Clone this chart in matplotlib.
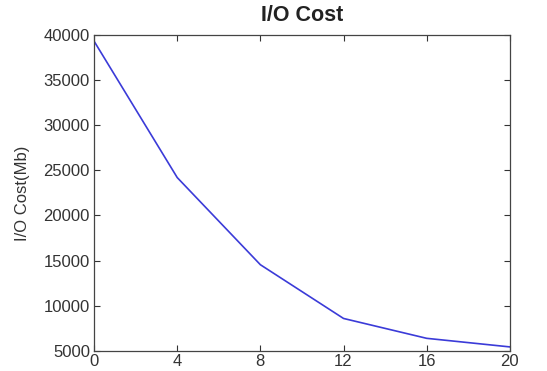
import matplotlib
matplotlib.use("Agg")
import matplotlib.pyplot as plt

# values
steps = [0, 4, 8, 12, 16, 20]
io_cost = [39300, 24200, 14550, 8600, 6400, 5450]
x_ticks = [0, 4, 8, 12, 16, 20]
y_ticks = [5000, 10000, 15000, 20000, 25000, 30000, 35000, 40000]

plt.rcParams['font.family'] = ['Liberation Sans', 'DejaVu Sans']

fig = plt.figure(figsize=(5.47, 3.71), dpi=100)
ax = fig.add_axes([0.172, 0.054, 0.76, 0.852])

ax.plot(steps, io_cost, color='#3b3bd8', linewidth=1.2)

ax.set_xlim(0, 20)
ax.set_ylim(5000, 40000)
ax.set_xticks(x_ticks)
ax.set_yticks(y_ticks)
ax.tick_params(direction='in', top=True, right=True, length=4, width=0.8,
               labelsize=12, colors='#333333', pad=3)
ax.tick_params(axis='x', pad=2)
for s in ax.spines.values():
    s.set_color('#444444')
    s.set_linewidth(0.9)

ax.set_title('I/O Cost', fontsize=15.5, fontweight='bold', color='#222222', pad=10)
ax.set_ylabel('I/O Cost(Mb)', fontsize=12, color='#333333', labelpad=10)

fig.savefig('out.png', dpi=100)
